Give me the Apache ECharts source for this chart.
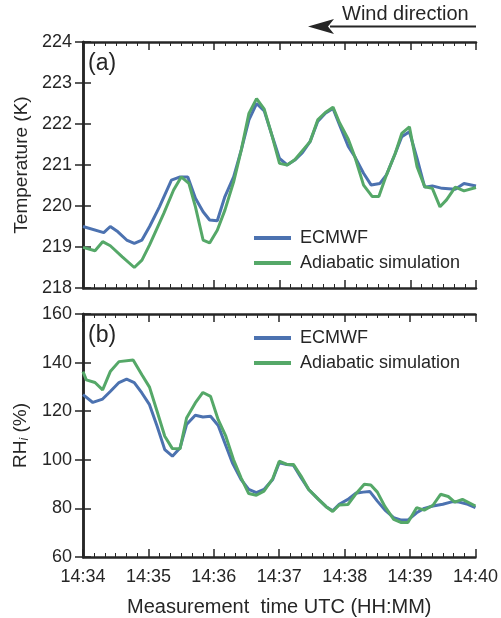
<!DOCTYPE html>
<html>
<head>
<meta charset="utf-8">
<script src="https://cdn.jsdelivr.net/npm/echarts@6/dist/echarts.min.js"></script>
<style>
  html, body { margin: 0; padding: 0; background: #fff; }
  #main { width: 501px; height: 618px; }
</style>
</head>
<body>
<div id="main"></div>
<script>
// seconds after 14:34:00 and values
var secEcmwfT = [0,19,25,32,40,47,54,61,70,81,89,96,103,110,116,123,130,138,145,152,159,166,173,180,187,194,201,208,215,222,229,235,243,249,257,264,272,278,286,292,299,306,313,320,329,341,349,360];
var ecmwfT = [219.5,219.35,219.5,219.37,219.17,219.09,219.17,219.5,219.98,220.63,220.71,220.71,220.19,219.86,219.66,219.64,220.23,220.71,221.37,222.1,222.5,222.32,221.73,221.16,221.0,221.12,221.3,221.57,222.06,222.26,222.38,221.98,221.45,221.2,220.8,220.51,220.55,220.76,221.28,221.69,221.81,221.16,220.46,220.49,220.43,220.41,220.55,220.49];

var secAdiaT = [0,11,18,25,36,47,54,61,74,83,90,97,103,110,116,123,130,138,145,152,159,166,173,180,187,194,201,208,215,222,229,235,243,249,257,265,271,278,286,292,299,306,313,320,327,333,341,349,360];
var adiaT = [218.99,218.91,219.13,219.03,218.76,218.5,218.68,219.05,219.82,220.39,220.71,220.55,219.98,219.17,219.1,219.41,219.9,220.59,221.37,222.26,222.62,222.36,221.73,221.04,221.0,221.13,221.35,221.57,222.1,222.28,222.41,222.03,221.63,221.2,220.51,220.23,220.23,220.76,221.28,221.77,221.93,220.96,220.47,220.43,219.98,220.15,220.46,220.37,220.45];

var secEcmwfRH = [0,9,18,25,33,40,47,54,61,68,75,82,89,95,103,110,117,124,130,137,145,152,159,166,174,180,187,193,200,207,216,223,229,235,243,250,257,263,270,277,285,292,298,306,313,321,330,339,345,353,360];
var ecmwfRH = [126.8,123.6,125.0,128.1,131.8,133.2,131.8,127.5,122.7,113.8,104.2,101.5,104.9,114.5,118.3,117.6,117.9,114.1,107.0,98.8,91.9,87.8,86.5,87.8,91.9,98.8,98.1,97.8,92.6,87.8,83.7,80.7,79.0,81.7,83.7,86.2,86.7,87.0,83.0,79.3,76.2,75.2,75.2,78.2,80.0,81.0,81.7,82.8,82.6,81.7,80.3];

var secAdiaRH = [0,3,11,18,25,33,46,54,61,68,75,82,89,95,103,110,117,124,131,138,145,152,159,166,174,180,187,193,200,207,216,223,229,235,243,250,258,264,270,277,285,292,298,306,313,321,328,335,341,348,360];
var adiaRH = [136.3,132.9,131.8,128.8,136.3,140.4,141.1,135.0,129.9,119.9,109.7,104.6,104.5,117.2,123.4,127.7,126.1,116.5,109.7,100.1,92.6,86.1,85.4,87.1,92.2,99.4,98.1,98.1,93.3,87.8,83.7,80.7,78.7,81.4,81.6,85.8,89.9,89.6,86.7,80.7,75.5,74.2,74.2,80.3,79.3,81.3,85.8,84.9,82.6,83.7,81.0];

var timeLabels = ['14:34','14:35','14:36','14:37','14:38','14:39','14:40'];

function pairs(xs, ys) {
    var out = [];
    for (var i = 0; i < xs.length; i++) {
        out.push([xs[i], ys[i]]);
    }
    return out;
}

var ink = '#262626';
var font = 'Liberation Sans';
var blue = '#4c72b0', green = '#55a868';

// x axis for one edge of a panel
function xAx(grid, pos, showLabel) {
    return {
        type: 'value', gridIndex: grid, position: pos,
        min: 0, max: 360, interval: 60,
        axisLine: {show: true, lineStyle: {color: ink, width: 2.5}},
        axisTick: {show: true, inside: true, length: 8, lineStyle: {color: ink, width: 1.5}},
        minorTick: {show: true, splitNumber: 6, length: 4, lineStyle: {color: ink, width: 1}},
        splitLine: {show: false},
        axisLabel: {
            show: showLabel, margin: 11, color: ink, fontFamily: font, fontSize: 18,
            formatter: function (v) { return timeLabels[Math.round(v / 60)]; }
        }
    };
}

function yAx(grid, pos, min, max, step, showLabel) {
    return {
        type: 'value', gridIndex: grid, position: pos,
        min: min, max: max, interval: step,
        axisLine: {show: true, lineStyle: {color: ink, width: 2.5}},
        axisTick: {show: true, inside: true, length: 8, lineStyle: {color: ink, width: 1.5}},
        splitLine: {show: false},
        axisLabel: {show: showLabel, margin: 11, color: ink, fontFamily: font, fontSize: 18}
    };
}

var xAxes = [xAx(0, 'bottom', false), xAx(0, 'top', false), xAx(1, 'bottom', true), xAx(1, 'top', false)];
xAxes[2].name = 'Measurement  time UTC (HH:MM)';
xAxes[2].nameLocation = 'middle';
xAxes[2].nameGap = 40;
xAxes[2].nameTextStyle = {color: ink, fontFamily: font, fontSize: 20};

var yAxes = [yAx(0, 'left', 218, 224, 1, true), yAx(0, 'right', 218, 224, 1, false),
             yAx(1, 'left', 60, 160, 20, true), yAx(1, 'right', 60, 160, 20, false)];
yAxes[0].name = 'Temperature (K)';
yAxes[0].nameLocation = 'middle';
yAxes[0].nameGap = 49;
yAxes[0].nameTextStyle = {color: ink, fontFamily: font, fontSize: 19};
yAxes[2].name = 'RH{sub|i} (%)';
yAxes[2].nameLocation = 'middle';
yAxes[2].nameGap = 49;
yAxes[2].nameTextStyle = {color: ink, fontFamily: font, fontSize: 19,
    rich: {sub: {fontFamily: font, fontSize: 12, fontStyle: 'italic', verticalAlign: 'bottom', padding: [9, 0, 0, 0], color: ink}}};

function lineSeries(name, color, xi, data) {
    return {
        name: name, type: 'line', xAxisIndex: xi, yAxisIndex: xi,
        data: data, showSymbol: false, symbol: 'none', smooth: false,
        lineStyle: {color: color, width: 3},
        itemStyle: {color: color},
        z: name === 'ECMWF' ? 2 : 3
    };
}

function legendAt(top) {
    return {
        left: 249, top: top, orient: 'vertical',
        icon: 'rect', itemWidth: 37, itemHeight: 4, itemGap: 7,
        data: ['ECMWF', 'Adiabatic simulation'],
        textStyle: {color: ink, fontFamily: font, fontSize: 18, padding: [0, 0, 0, 4]}
    };
}

var myChart = echarts.init(document.getElementById('main'), null, {renderer: 'canvas'});

var option = {
    animation: false,
    backgroundColor: '#fff',
    grid: [
        {left: 83, top: 42, width: 393, height: 246},
        {left: 83, top: 314, width: 393, height: 244}
    ],
    xAxis: xAxes,
    yAxis: yAxes,
    legend: [legendAt(224), legendAt(324)],
    graphic: [
        {type: 'text', left: 88, top: 52, style: {text: '(a)', fill: ink, font: '23px "Liberation Sans"'}},
        {type: 'text', left: 88, top: 324, style: {text: '(b)', fill: ink, font: '23px "Liberation Sans"'}},
        {type: 'text', left: 342, top: 4, style: {text: 'Wind direction', fill: ink, font: '20px "Liberation Sans"'}},
        {type: 'line', shape: {x1: 330, y1: 26.5, x2: 476, y2: 26.5}, style: {stroke: ink, lineWidth: 2}},
        {type: 'polygon', shape: {points: [[308, 26.5], [334, 19], [328, 26.5], [334, 34]]}, style: {fill: ink}}
    ],
    series: [
        lineSeries('ECMWF', blue, 0, pairs(secEcmwfT, ecmwfT)),
        lineSeries('Adiabatic simulation', green, 0, pairs(secAdiaT, adiaT)),
        lineSeries('ECMWF', blue, 2, pairs(secEcmwfRH, ecmwfRH)),
        lineSeries('Adiabatic simulation', green, 2, pairs(secAdiaRH, adiaRH))
    ]
};

myChart.setOption(option);
</script>
</body>
</html>
